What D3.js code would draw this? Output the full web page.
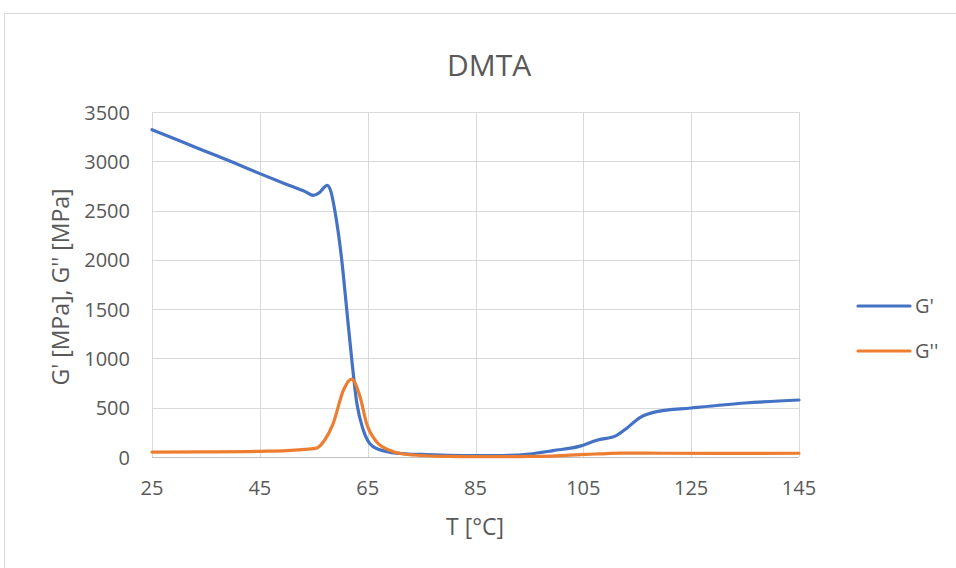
<!DOCTYPE html>
<html>
<head>
<meta charset="utf-8">
<script src="https://cdn.jsdelivr.net/npm/d3@7"></script>
<style>
  body { margin: 0; background: #fff; }
  text { font-family: "Open Sans", "Liberation Sans", sans-serif; fill: #595959; }
</style>
</head>
<body>
<script>
var width = 956
var height = 568

// G' (storage modulus)
var tG1 = [25, 30, 35, 40, 45, 50, 53.5, 54.9, 56, 57.5, 58.2, 58.9, 60.2, 61.1, 62, 63, 64.2, 66, 69, 72, 76, 80, 85, 90, 95, 99.4, 104.4, 107.5, 111.2, 113, 115.5, 118.6, 125, 135, 145]
var g1  = [3320, 3210, 3100, 2990, 2875, 2765, 2690, 2655, 2680, 2756, 2690, 2503, 1995, 1505, 1015, 542, 271, 105, 50, 33, 24, 18, 15, 15, 30, 65, 110, 170, 220, 290, 400, 460, 497, 548, 578]

// G'' (loss modulus)
var tG2 = [25, 35, 45, 50, 55.5, 57, 58.6, 60.5, 62, 63.6, 64.8, 66.7, 69.1, 71, 75, 80, 85, 90, 95, 100, 104.4, 108, 111.8, 120, 130, 145]
var g2  = [50, 52, 58, 65, 90, 170, 339, 677, 790, 609, 339, 152, 68, 35, 15, 6, 3, 3, 6, 12, 24, 32, 40, 38, 37, 38]

var xTicks = [25, 45, 65, 85, 105, 125, 145]
var yTicks = [0, 500, 1000, 1500, 2000, 2500, 3000, 3500]

var series = [
  {name: "G'", t: tG1, v: g1, color: "#4472C4"},
  {name: "G''", t: tG2, v: g2, color: "#ED7D31"}
]

var svg = d3.select("body")
    .append("svg")
    .attr("width", width)
    .attr("height", height);

// chart frame
svg.append("rect")
    .attr("x", 4.5).attr("y", 13.5)
    .attr("width", 1000).attr("height", 600)
    .attr("fill", "none")
    .attr("stroke", "#d9d9d9");

var plotLeft = 152, plotRight = 799, plotTop = 112, plotBottom = 457

var x_scale = d3.scaleLinear().domain([25, 145]).range([plotLeft, plotRight]);
var y_scale = d3.scaleLinear().domain([0, 3500]).range([plotBottom, plotTop]);

// gridlines
svg.append("g").selectAll("line")
    .data(yTicks.filter(d => d > 0))
    .enter().append("line")
    .attr("x1", plotLeft).attr("x2", plotRight)
    .attr("y1", d => Math.round(y_scale(d)) + 0.5).attr("y2", d => Math.round(y_scale(d)) + 0.5)
    .attr("stroke", "#d9d9d9");

svg.append("g").selectAll("line")
    .data(xTicks)
    .enter().append("line")
    .attr("x1", d => Math.round(x_scale(d)) + 0.5).attr("x2", d => Math.round(x_scale(d)) + 0.5)
    .attr("y1", plotTop).attr("y2", plotBottom)
    .attr("stroke", "#d9d9d9");

// bottom axis line
svg.append("line")
    .attr("x1", plotLeft).attr("x2", plotRight)
    .attr("y1", plotBottom + 0.5).attr("y2", plotBottom + 0.5)
    .attr("stroke", "#bfbfbf");

// tick labels
svg.append("g").selectAll("text")
    .data(xTicks)
    .enter().append("text")
    .attr("x", d => x_scale(d))
    .attr("y", 495)
    .attr("text-anchor", "middle")
    .attr("font-size", 20)
    .text(d => d);

svg.append("g").selectAll("text")
    .data(yTicks)
    .enter().append("text")
    .attr("x", 130)
    .attr("y", d => y_scale(d) + 7.5)
    .attr("text-anchor", "end")
    .attr("font-size", 20)
    .text(d => d);

// titles
svg.append("text")
    .attr("x", 489).attr("y", 76)
    .attr("text-anchor", "middle")
    .attr("font-size", 30)
    .text("DMTA");

svg.append("text")
    .attr("x", 475).attr("y", 535)
    .attr("text-anchor", "middle")
    .attr("font-size", 23)
    .text("T [°C]");

svg.append("text")
    .attr("transform", "translate(69,287) rotate(-90)")
    .attr("text-anchor", "middle")
    .attr("font-size", 23)
    .text("G' [MPa], G'' [MPa]");

// curves
var line = d3.line()
    .x(d => x_scale(d[0]))
    .y(d => y_scale(d[1]))
    .curve(d3.curveMonotoneX);

series.forEach(function (s) {
    svg.append("path")
        .datum(s.t.map((t, i) => [t, s.v[i]]))
        .attr("d", line)
        .attr("fill", "none")
        .attr("stroke", s.color)
        .attr("stroke-width", 3.2)
        .attr("stroke-linejoin", "round")
        .attr("stroke-linecap", "round");
});

// legend
var legend = svg.append("g").selectAll("g")
    .data(series)
    .enter().append("g")
    .attr("transform", (d, i) => "translate(0," + (306 + i * 45) + ")");

legend.append("line")
    .attr("x1", 858).attr("x2", 910)
    .attr("stroke", d => d.color)
    .attr("stroke-width", 3.2)
    .attr("stroke-linecap", "round");

legend.append("text")
    .attr("x", 915).attr("y", 7)
    .attr("font-size", 20)
    .text(d => d.name);
</script>
</body>
</html>
